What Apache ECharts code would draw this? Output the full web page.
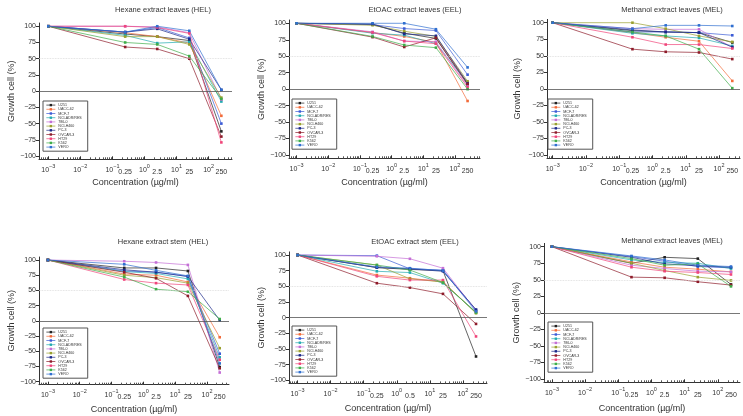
<!DOCTYPE html>
<html>
<head>
<meta charset="utf-8">
<script src="https://cdn.jsdelivr.net/npm/echarts@6/dist/echarts.min.js"></script>
<style>
  html, body { margin: 0; padding: 0; background: #fff; }
  #chart { width: 743px; height: 416px; }
</style>
</head>
<body>
<div id="chart"></div>
<script>
  // concentrations (ug/ml) tested; first one is the control point
  const conc = [0.001, 0.25, 2.5, 25, 250];
  const cellLines = ['U251', 'UACC-62', 'MCF-7', 'NCI-ADR/RES', '786-0', 'NCI-H460', 'PC-3', 'OVCAR-3', 'HT29', 'K562', 'VERO'];
  const yTicks = [-100, -75, -50, -25, 0, 25, 50, 75, 100];
  const decades = [-3, -2, -1, 0, 1, 2];
  const concLabels = ['0.25', '2.5', '25', '250'];
  const concLabelsEelStem = ['0.25', '0.5', '25', '250'];
  const panelTitles = [
    'Hexane extract leaves (HEL)', 'EtOAC extract leaves (EEL)', 'Methanol extract leaves (MEL)',
    'Hexane extract stem (HEL)', 'EtOAC extract stem (EEL)', 'Methanol extract leaves (MEL)'
  ];

  // growth (%) per cell line, in cellLines order
  const helLeaves = [
    [100, 88, 84, 78, -62], [100, 90, 84, 74, -38], [100, 91, 98, 82, -50], [100, 86, 74, 76, -16],
    [100, 100, 99, 90, -13], [100, 84, 84, 72, -10], [100, 91, 96, 80, 2], [100, 68, 65, 50, -70],
    [100, 100, 98, 89, -79], [100, 75, 72, 54, -12], [100, 91, 100, 93, 2]
  ];
  const eelLeaves = [
    [100, 98, 85, 77, 7], [100, 86, 80, 71, -18], [100, 98, 92, 89, 22], [100, 85, 82, 69, 10],
    [100, 87, 73, 72, 5], [100, 97, 88, 80, 12], [100, 99, 84, 81, 9], [100, 79, 64, 78, 8],
    [100, 86, 73, 69, 3], [100, 80, 67, 63, 0], [100, 100, 100, 91, 33]
  ];
  const melLeaves = [
    [100, 88, 86, 85, 70], [100, 85, 78, 72, 12], [100, 86, 86, 85, 81], [100, 84, 80, 77, 65],
    [100, 91, 90, 90, 63], [100, 100, 91, 80, 71], [100, 89, 86, 85, 63], [100, 60, 56, 55, 45],
    [100, 78, 67, 67, 61], [100, 86, 80, 60, 1], [100, 91, 96, 96, 95]
  ];
  const helStem = [
    [100, 87, 87, 82, -76], [100, 77, 75, 64, -27], [100, 82, 80, 73, -54], [100, 81, 78, 69, -60],
    [100, 98, 96, 92, -85], [100, 75, 71, 62, -45], [100, 84, 80, 73, 1], [100, 80, 70, 41, -78],
    [100, 68, 62, 59, -64], [100, 72, 52, 48, 3], [100, 93, 83, 74, -70]
  ];
  const eelStem = [
    [100, 80, 77, 75, -62], [100, 68, 63, 57, 8], [100, 99, 78, 76, 12], [100, 74, 72, 55, 9],
    [100, 98, 94, 79, 11], [100, 84, 62, 57, 7], [100, 80, 78, 74, 13], [100, 55, 48, 38, -10],
    [100, 66, 60, 60, -30], [100, 84, 76, 56, 8], [100, 81, 79, 75, 10]
  ];
  const melStem = [
    [100, 75, 84, 82, 43], [100, 77, 69, 66, 62], [100, 85, 78, 70, 68], [100, 80, 76, 75, 67],
    [100, 72, 67, 63, 62], [100, 75, 64, 54, 49], [100, 84, 74, 71, 69], [100, 54, 53, 47, 42],
    [100, 69, 63, 61, 58], [100, 82, 72, 74, 40], [100, 86, 80, 72, 70]
  ];
  const panelData = [helLeaves, eelLeaves, melLeaves, helStem, eelStem, melStem];
  const panelConcLabels = [concLabels, concLabels, concLabels, concLabels, concLabelsEelStem, concLabels];

  const colors = ['#222222', '#f26b3a', '#3b5bd6', '#22aab0', '#c46fd6', '#9aa030',
                  '#1c2a8a', '#8e1b2a', '#f0457a', '#3fae4a', '#2f6fd0'];

  // layout of each panel (pixels)
  const layout = [
    {l: 39, r: 232, t: 23, b: 159.3, xmin: -3.29, xmax: 2.73, tx: 163, ty: 10, lg: [43, 101], yGap: 20, xGap: 19},
    {l: 289, r: 480, t: 20, b: 158.3, xmin: -3.24, xmax: 2.79, tx: 415, ty: 10, lg: [292, 99], yGap: 21, xGap: 20},
    {l: 547, r: 740, t: 19.4, b: 158.3, xmin: -3.17, xmax: 2.63, tx: 672, ty: 10, lg: [548, 99], yGap: 25, xGap: 20},
    {l: 39, r: 229, t: 257, b: 384.7, xmin: -3.28, xmax: 2.69, tx: 163, ty: 242, lg: [43, 328], yGap: 21, xGap: 20},
    {l: 289, r: 487, t: 251.9, b: 383.4, xmin: -3.26, xmax: 2.73, tx: 415, ty: 242, lg: [292, 326], yGap: 22, xGap: 21},
    {l: 544, r: 740, t: 243.4, b: 382.3, xmin: -3.24, xmax: 2.67, tx: 672, ty: 241, lg: [548, 322], yGap: 22, xGap: 22}
  ];

  const font = 'Liberation Sans';
  const logConc = conc.map(c => Math.log10(c));
  const minorTicks = [];
  for (let d = -4; d <= 2; d++) {
    for (let k = 2; k <= 9; k++) minorTicks.push(Math.log10(k) + d);
  }

  const chart = echarts.init(document.getElementById('chart'));
  const grid = [], xAxis = [], yAxis = [], series = [], legend = [], graphic = [];

  layout.forEach((p, i) => {
    grid.push({left: p.l, top: p.t, width: p.r - p.l, height: p.b - p.t});
    const mn = p.xmin, mx = p.xmax;
    const labs = panelConcLabels[i];
    // main axis with decade labels
    xAxis.push({
      type: 'value', gridIndex: i, min: mn, max: mx, position: 'bottom',
      axisLine: {show: true, onZero: false, lineStyle: {color: '#333', width: 1}},
      axisTick: {show: true, inside: true, length: 3, customValues: decades, lineStyle: {color: '#333'}},
      splitLine: {show: false},
      axisLabel: {
        customValues: decades, margin: 4, color: '#333', fontFamily: font, fontSize: 7,
        hideOverlap: false,
        formatter: v => '{b|10}{s|' + (v < 0 ? '\u2212' + Math.abs(v) : v) + '}',
        rich: {
          b: {fontSize: 7, fontFamily: font, color: '#333', lineHeight: 10, verticalAlign: 'bottom'},
          s: {fontSize: 5.5, fontFamily: font, color: '#333', lineHeight: 6, verticalAlign: 'top'}
        }
      },
      name: 'Concentration (\u00b5g/ml)', nameLocation: 'middle', nameGap: p.xGap,
      nameTextStyle: {fontFamily: font, fontSize: 9, color: '#333'}
    });
    // minor log ticks
    xAxis.push({
      type: 'value', gridIndex: i, min: mn, max: mx, position: 'bottom',
      axisLine: {show: false, onZero: false},
      axisTick: {show: true, inside: true, length: 2, customValues: minorTicks.filter(v => v > mn && v < mx), lineStyle: {color: '#555'}},
      axisLabel: {show: false}, splitLine: {show: false}
    });
    // concentration labels
    xAxis.push({
      type: 'value', gridIndex: i, min: mn, max: mx, position: 'bottom',
      axisLine: {show: false, onZero: false}, axisTick: {show: false}, splitLine: {show: false},
      axisLabel: {
        customValues: logConc.slice(1), margin: 9, color: '#333', fontFamily: font, fontSize: 7,
        formatter: v => {
          const k = logConc.findIndex(x => Math.abs(x - v) < 1e-6);
          return k > 0 ? labs[k - 1] : '';
        }
      }
    });
    yAxis.push({
      type: 'value', gridIndex: i, min: -105, max: 105, position: 'left',
      axisLine: {show: true, onZero: false, lineStyle: {color: '#333', width: 1}},
      axisTick: {show: true, length: 3, customValues: yTicks, lineStyle: {color: '#333'}},
      splitLine: {show: false},
      axisLabel: {
        customValues: yTicks, margin: 3, color: '#333', fontFamily: font, fontSize: 7,
        formatter: v => (v < 0 ? '\u2212' + Math.abs(v) : String(v))
      },
      name: 'Growth cell (%)', nameLocation: 'middle', nameGap: p.yGap,
      nameTextStyle: {fontFamily: font, fontSize: 9, color: '#333'}
    });

    panelData[i].forEach((vals, j) => {
      const s = {
        type: 'line', name: cellLines[j], xAxisIndex: i * 3, yAxisIndex: i,
        data: vals.map((v, k) => [logConc[k], v]),
        symbol: 'rect', symbolSize: 2.6, color: colors[j],
        lineStyle: {width: 0.7, color: colors[j]},
        itemStyle: {color: colors[j]},
        emphasis: {disabled: true}, z: 3
      };
      if (j === 0) {
        s.markLine = {
          silent: true, symbol: 'none', label: {show: false},
          data: [
            {yAxis: 0, lineStyle: {color: '#555', width: 0.8, type: 'solid'}},
            {yAxis: 50, lineStyle: {color: '#d8d8d8', width: 0.8, type: 'dotted'}}
          ]
        };
      }
      series.push(s);
    });

    legend.push({
      left: p.lg[0], top: p.lg[1], orient: 'vertical', data: cellLines,
      padding: [2, 6, 2, 3], borderColor: '#555', borderWidth: 1,
      itemWidth: 9, itemHeight: 3, itemGap: 0, selectedMode: false,
      lineStyle: {width: 0.7},
      textStyle: {fontFamily: font, fontSize: 3.6, lineHeight: 4.2, color: '#333', padding: [0, 0, 0, -2]}
    });

    graphic.push({
      type: 'text', x: p.tx, y: p.ty,
      style: {text: panelTitles[i], fill: '#333', font: '7.5px ' + font, align: 'center', verticalAlign: 'middle'}
    });
  });

  chart.setOption({
    animation: false,
    backgroundColor: '#fff',
    grid: grid,
    xAxis: xAxis,
    yAxis: yAxis,
    legend: legend,
    graphic: graphic,
    series: series
  });
</script>
</body>
</html>
